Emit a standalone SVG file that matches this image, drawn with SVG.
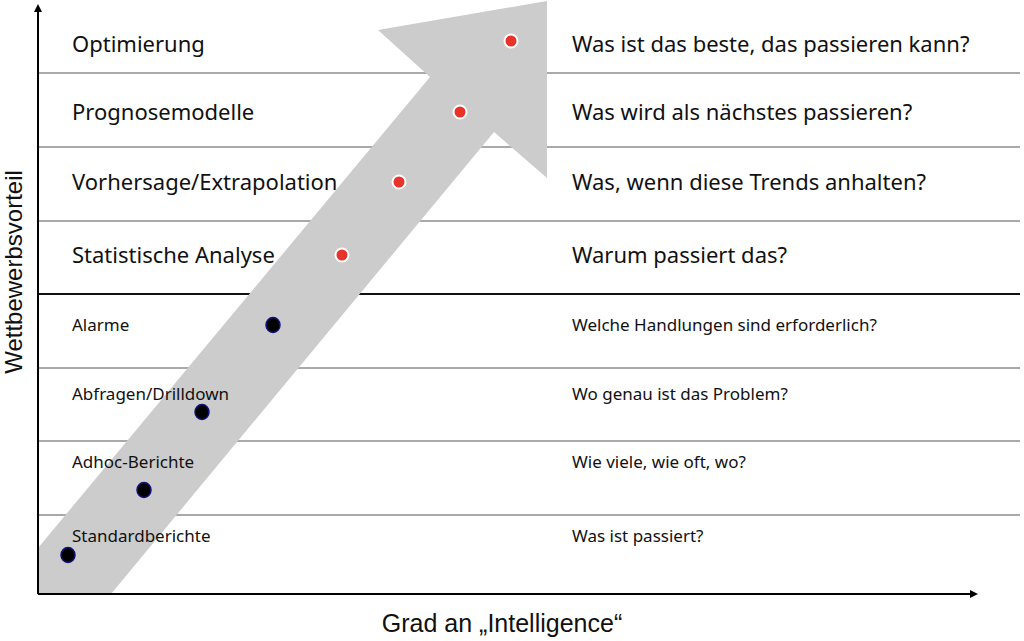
<svg xmlns="http://www.w3.org/2000/svg" width="1024" height="641" viewBox="0 0 1024 641">
<style>
.big{font-family:"Noto Sans","Liberation Sans",sans-serif;font-size:22px;fill:#111}
.sm{font-family:"Noto Sans","Liberation Sans",sans-serif;font-size:17px;fill:#111}
.ax{font-family:"Liberation Sans",Arial,sans-serif;fill:#111}
.row{stroke:#555;stroke-width:1}
.red{fill:#e8322a;stroke:#fff;stroke-width:2}
.blk{fill:#000;stroke:#12127a;stroke-width:1.5}
</style>
<defs><marker id="ah" markerWidth="8" markerHeight="8" refX="6" refY="4" orient="auto" markerUnits="userSpaceOnUse"><path d="M0,0 L8,4 L0,8 Z" fill="#000"/></marker></defs>
<rect width="1024" height="641" fill="#fff"/>
<g id="grid">
<line class="row" x1="38" y1="73" x2="1020" y2="73"/>
<line class="row" x1="38" y1="147" x2="1020" y2="147"/>
<line class="row" x1="38" y1="221" x2="1020" y2="221"/>
<line x1="38" y1="294" x2="1020" y2="294" stroke="#111" stroke-width="2"/>
<line class="row" x1="38" y1="368" x2="1020" y2="368"/>
<line class="row" x1="38" y1="441" x2="1020" y2="441"/>
<line class="row" x1="38" y1="515" x2="1020" y2="515"/>
</g>
<g id="bigarrow"><polygon points="38,548 430,77 378,30 547,1 547,178 494,132 111,594 38,594" fill="#cccccc"/></g>
<g id="connectors">
<line x1="38" y1="594" x2="38" y2="6" stroke="#000" stroke-width="2" marker-end="url(#ah)"/>
<line x1="38" y1="594" x2="976" y2="594" stroke="#000" stroke-width="2" marker-end="url(#ah)"/>
</g>
<g id="n1"><text class="big" x="72" y="52">Optimierung</text><circle class="red" cx="511" cy="41" r="6.5"/><text class="big" x="572" y="52">Was ist das beste, das passieren kann?</text></g>
<g id="n2"><text class="big" x="72" y="120">Prognosemodelle</text><circle class="red" cx="460" cy="112" r="6.5"/><text class="big" x="572" y="120">Was wird als nächstes passieren?</text></g>
<g id="n3"><text class="big" x="72" y="190">Vorhersage/Extrapolation</text><circle class="red" cx="399" cy="182" r="6.5"/><text class="big" x="572" y="190">Was, wenn diese Trends anhalten?</text></g>
<g id="n4"><text class="big" x="72" y="263">Statistische Analyse</text><circle class="red" cx="342" cy="255" r="6.5"/><text class="big" x="572" y="263">Warum passiert das?</text></g>
<g id="n5"><text class="sm" x="72" y="331">Alarme</text><ellipse class="blk" cx="273" cy="325" rx="7" ry="7.5"/><text class="sm" x="572" y="331">Welche Handlungen sind erforderlich?</text></g>
<g id="n6"><text class="sm" x="72" y="400">Abfragen/Drilldown</text><ellipse class="blk" cx="202" cy="412" rx="7" ry="7.5"/><text class="sm" x="572" y="400">Wo genau ist das Problem?</text></g>
<g id="n7"><text class="sm" x="72" y="468">Adhoc-Berichte</text><ellipse class="blk" cx="144" cy="490" rx="7" ry="7.5"/><text class="sm" x="572" y="468">Wie viele, wie oft, wo?</text></g>
<g id="n8"><text class="sm" x="72" y="542">Standardberichte</text><ellipse class="blk" cx="68" cy="555" rx="7" ry="7.5"/><text class="sm" x="572" y="542">Was ist passiert?</text></g>
<text class="ax" font-size="24" transform="translate(22,272) rotate(-90)" text-anchor="middle">Wettbewerbsvorteil</text>
<text class="ax" font-size="25" x="502" y="632" text-anchor="middle">Grad an „Intelligence“</text>
</svg>
